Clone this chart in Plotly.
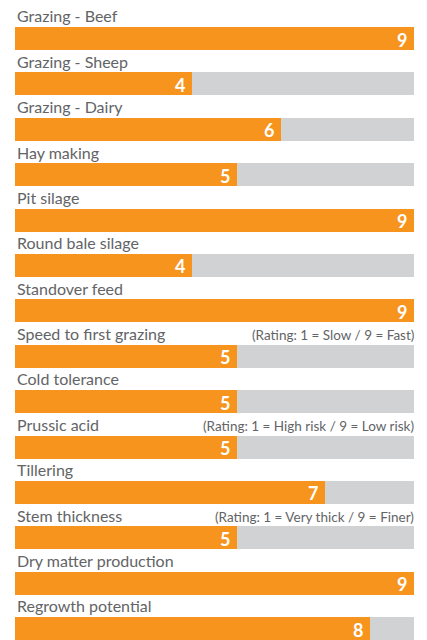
import plotly.graph_objects as go

# Attributs et notes (sur 9)
attributes = [
    "Grazing - Beef",
    "Grazing - Sheep",
    "Grazing - Dairy",
    "Hay making",
    "Pit silage",
    "Round bale silage",
    "Standover feed",
    "Speed to first grazing",
    "Cold tolerance",
    "Prussic acid",
    "Tillering",
    "Stem thickness",
    "Dry matter production",
    "Regrowth potential",
]
ratings = [9, 4, 6, 5, 9, 4, 9, 5, 5, 5, 7, 5, 9, 8]
max_rating = 9

# Notes explicatives sur certaines lignes
notes = {
    "Speed to first grazing": "(Rating: 1 = Slow / 9 = Fast)",
    "Prussic acid": "(Rating: 1 = High risk / 9 = Low risk)",
    "Stem thickness": "(Rating: 1 = Very thick / 9 = Finer)",
}

orange = "#F7941D"
grey = "#D1D2D4"
text_grey = "#636466"
font = "Lato"

rows = [-i for i in range(len(attributes))]
bar_w = 0.507

fig = go.Figure()

# Fond gris (note max)
fig.add_trace(go.Bar(
    x=[max_rating] * len(attributes),
    y=rows,
    orientation="h",
    width=bar_w,
    marker=dict(color=grey, line=dict(width=0)),
    hoverinfo="skip",
    showlegend=False,
))

# Barres orange (notes)
fig.add_trace(go.Bar(
    x=ratings,
    y=rows,
    orientation="h",
    width=bar_w,
    marker=dict(color=orange, line=dict(width=0)),
    customdata=attributes,
    hovertemplate="%{customdata}: %{x}<extra></extra>",
    showlegend=False,
))

annotations = []
for name, val, y in zip(attributes, ratings, rows):
    # libellé au-dessus de la barre
    annotations.append(dict(
        x=0, xref="paper", y=y + 0.5, yref="y",
        text=name, showarrow=False, xanchor="left", yanchor="middle",
        font=dict(family=font, size=16, color=text_grey),
    ))
    # valeur en blanc au bout de la barre
    annotations.append(dict(
        x=val, xref="x", y=y, yref="y",
        text=f"<b>{val}</b>", showarrow=False, xanchor="right", yanchor="middle",
        xshift=-5, yshift=-1,
        font=dict(family=font, size=18, color="white"),
    ))
    if name in notes:
        annotations.append(dict(
            x=1, xref="paper", y=y + 0.47, yref="y",
            text=notes[name], showarrow=False, xanchor="right", yanchor="middle",
            xshift=2,
            font=dict(family=font, size=13.5, color=text_grey),
        ))

# la page ajoute 8 px de marge autour du graphe
fig.update_layout(
    width=419,
    height=632,
    barmode="overlay",
    bargap=0,
    plot_bgcolor="white",
    paper_bgcolor="white",
    margin=dict(l=7, r=13, t=0, b=0),
    xaxis=dict(range=[0, max_rating], visible=False, fixedrange=True),
    yaxis=dict(range=[-13.25, 0.672], visible=False, fixedrange=True),
    annotations=annotations,
)

fig.write_html("out.html")
